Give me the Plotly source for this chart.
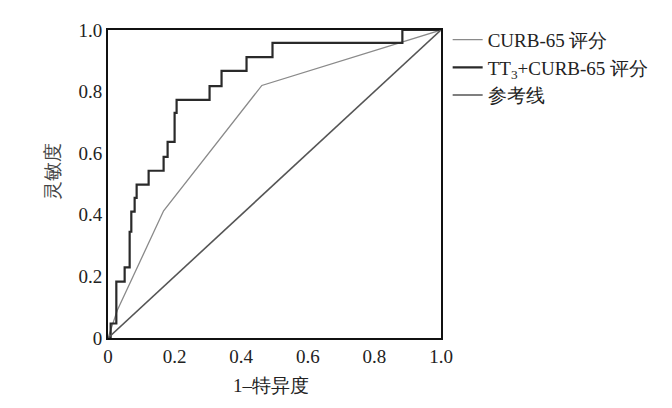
import plotly.graph_objects as go

# TT3+CURB-65 score ROC (step curve) points
tt3_fpr = [0, 0.008, 0.025, 0.05, 0.065, 0.07, 0.08, 0.086, 0.122, 0.167, 0.179,
           0.2, 0.206, 0.305, 0.341, 0.416, 0.494, 0.884, 1.0]
tt3_tpr = [0, 0, 0.047, 0.183, 0.229, 0.345, 0.41, 0.455, 0.498, 0.543, 0.588,
           0.637, 0.731, 0.773, 0.818, 0.867, 0.912, 0.958, 1.0]

# CURB-65 score ROC points
curb_fpr = [0, 0.028, 0.167, 0.462, 1.0]
curb_tpr = [0, 0.09, 0.413, 0.82, 1.0]

# reference line
ref_x = [0, 1]
ref_y = [0, 1]

tick_vals = [0, 0.2, 0.4, 0.6, 0.8, 1.0]
tick_text = ["0", "0.2", "0.4", "0.6", "0.8", "1.0"]

names = ["CURB-65 评分", "TT<sub>3</sub>+CURB-65 评分", "参考线"]

FONT = "Liberation Serif"

fig = go.Figure()
fig.add_trace(go.Scatter(x=curb_fpr, y=curb_tpr, mode="lines", name=names[0],
                         line=dict(color="#8a8a8a", width=1.3)))
fig.add_trace(go.Scatter(x=tt3_fpr, y=tt3_tpr, mode="lines", name=names[1],
                         line=dict(color="#2a2a2a", width=2.2, shape="vh")))
fig.add_trace(go.Scatter(x=ref_x, y=ref_y, mode="lines", name=names[2],
                         line=dict(color="#555555", width=1.6)))

axis_common = dict(range=[0, 1], showgrid=False, zeroline=False, showline=True,
                   linecolor="#111", linewidth=2, mirror=True, ticks="",
                   tickvals=tick_vals, ticktext=tick_text,
                   tickfont=dict(family=FONT, size=19, color="#222"))

fig.update_xaxes(**axis_common)
fig.update_yaxes(**axis_common)

fig.update_layout(
    width=672, height=408,
    margin=dict(l=100, r=239, t=22, b=78),
    paper_bgcolor="white", plot_bgcolor="white",
    font=dict(family=FONT, size=18, color="#222"),
    showlegend=True,
    legend=dict(x=1.02, xanchor="left", y=1.03, yanchor="top",
                font=dict(family=FONT, size=19, color="#222"),
                itemwidth=30, tracegroupgap=0, bgcolor="rgba(0,0,0,0)"),
    annotations=[
        dict(text="1–特异度", xref="paper", yref="paper", x=0.49, y=-0.155,
             xanchor="center", yanchor="middle", showarrow=False,
             font=dict(family=FONT, size=19, color="#222")),
        dict(text="灵敏度", xref="paper", yref="paper", x=-0.165, y=0.54,
             xanchor="center", yanchor="middle", showarrow=False, textangle=-90,
             font=dict(family=FONT, size=19, color="#444")),
    ],
)

fig.write_html("out.html")
